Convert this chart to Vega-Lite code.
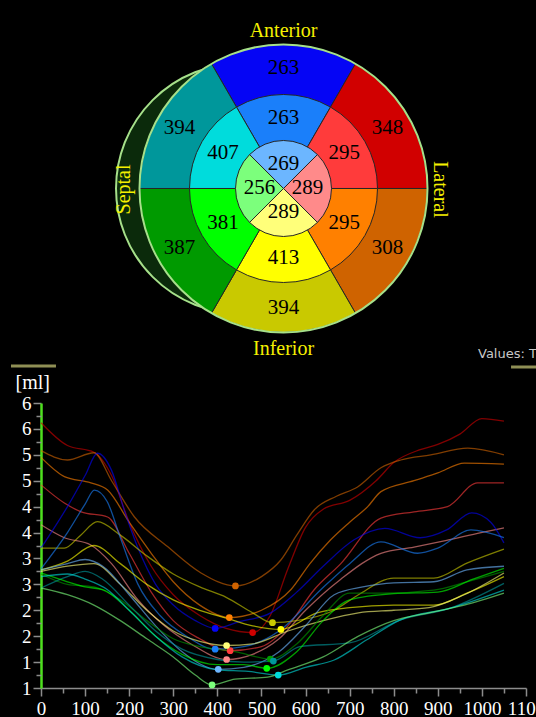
{
  "$schema": "https://vega.github.io/schema/vega-lite/v6.json",
  "background": "black",
  "padding": {"left": 9, "top": 0, "right": 0, "bottom": 0},
  "spacing": 0,
  "bounds": "flush",
  "config": {"view": {"stroke": null}, "font": "Liberation Serif"},
  "datasets": {
    "bullseye": [
      {"seg": "Basal anterior", "ring": 3, "a0": -30, "a1": 30, "T2": 263},
      {"seg": "Basal anterolateral", "ring": 3, "a0": 30, "a1": 90, "T2": 348},
      {"seg": "Basal inferolateral", "ring": 3, "a0": 90, "a1": 150, "T2": 308},
      {"seg": "Basal inferior", "ring": 3, "a0": 150, "a1": 210, "T2": 394},
      {"seg": "Basal inferoseptal", "ring": 3, "a0": 210, "a1": 270, "T2": 387},
      {"seg": "Basal anteroseptal", "ring": 3, "a0": 270, "a1": 330, "T2": 394},
      {"seg": "Mid anterior", "ring": 2, "a0": -30, "a1": 30, "T2": 263},
      {"seg": "Mid anterolateral", "ring": 2, "a0": 30, "a1": 90, "T2": 295},
      {"seg": "Mid inferolateral", "ring": 2, "a0": 90, "a1": 150, "T2": 295},
      {"seg": "Mid inferior", "ring": 2, "a0": 150, "a1": 210, "T2": 413},
      {"seg": "Mid inferoseptal", "ring": 2, "a0": 210, "a1": 270, "T2": 381},
      {"seg": "Mid anteroseptal", "ring": 2, "a0": 270, "a1": 330, "T2": 407},
      {"seg": "Apical anterior", "ring": 1, "a0": -45, "a1": 45, "T2": 269},
      {"seg": "Apical lateral", "ring": 1, "a0": 45, "a1": 135, "T2": 289},
      {"seg": "Apical inferior", "ring": 1, "a0": 135, "a1": 225, "T2": 289},
      {"seg": "Apical septal", "ring": 1, "a0": 225, "a1": 315, "T2": 256}
    ],
    "curves": [
      {"seg":"Basal anterolateral","t":0,"v":6.12},{"seg":"Basal anterolateral","t":60,"v":5.68},{"seg":"Basal anterolateral","t":120,"v":5.55},{"seg":"Basal anterolateral","t":160,"v":5.1},{"seg":"Basal anterolateral","t":200,"v":4.2},{"seg":"Basal anterolateral","t":250,"v":3.35},{"seg":"Basal anterolateral","t":300,"v":2.8},{"seg":"Basal anterolateral","t":360,"v":2.4},{"seg":"Basal anterolateral","t":420,"v":2.15},{"seg":"Basal anterolateral","t":480,"v":2.07},{"seg":"Basal anterolateral","t":520,"v":2.4},{"seg":"Basal anterolateral","t":560,"v":3.3},{"seg":"Basal anterolateral","t":600,"v":4.1},{"seg":"Basal anterolateral","t":640,"v":4.45},{"seg":"Basal anterolateral","t":700,"v":4.62},{"seg":"Basal anterolateral","t":760,"v":5.0},{"seg":"Basal anterolateral","t":800,"v":5.35},{"seg":"Basal anterolateral","t":860,"v":5.6},{"seg":"Basal anterolateral","t":900,"v":5.7},{"seg":"Basal anterolateral","t":950,"v":5.9},{"seg":"Basal anterolateral","t":1000,"v":6.2},{"seg":"Basal anterolateral","t":1050,"v":6.15},
      {"seg":"Basal inferolateral","t":0,"v":5.58},{"seg":"Basal inferolateral","t":60,"v":5.4},{"seg":"Basal inferolateral","t":120,"v":5.54},{"seg":"Basal inferolateral","t":160,"v":5.0},{"seg":"Basal inferolateral","t":212,"v":4.3},{"seg":"Basal inferolateral","t":287,"v":3.73},{"seg":"Basal inferolateral","t":363,"v":3.22},{"seg":"Basal inferolateral","t":441,"v":2.97},{"seg":"Basal inferolateral","t":500,"v":3.15},{"seg":"Basal inferolateral","t":544,"v":3.47},{"seg":"Basal inferolateral","t":580,"v":3.95},{"seg":"Basal inferolateral","t":620,"v":4.44},{"seg":"Basal inferolateral","t":670,"v":4.7},{"seg":"Basal inferolateral","t":718,"v":4.88},{"seg":"Basal inferolateral","t":771,"v":5.25},{"seg":"Basal inferolateral","t":816,"v":5.4},{"seg":"Basal inferolateral","t":884,"v":5.5},{"seg":"Basal inferolateral","t":968,"v":5.63},{"seg":"Basal inferolateral","t":1050,"v":5.5},
      {"seg":"Mid inferolateral","t":0,"v":5.45},{"seg":"Mid inferolateral","t":53,"v":5.08},{"seg":"Mid inferolateral","t":113,"v":4.96},{"seg":"Mid inferolateral","t":151,"v":4.82},{"seg":"Mid inferolateral","t":200,"v":4.2},{"seg":"Mid inferolateral","t":250,"v":3.6},{"seg":"Mid inferolateral","t":300,"v":3.05},{"seg":"Mid inferolateral","t":360,"v":2.6},{"seg":"Mid inferolateral","t":427,"v":2.36},{"seg":"Mid inferolateral","t":500,"v":2.5},{"seg":"Mid inferolateral","t":567,"v":2.9},{"seg":"Mid inferolateral","t":610,"v":3.4},{"seg":"Mid inferolateral","t":657,"v":3.86},{"seg":"Mid inferolateral","t":700,"v":4.2},{"seg":"Mid inferolateral","t":741,"v":4.5},{"seg":"Mid inferolateral","t":771,"v":4.79},{"seg":"Mid inferolateral","t":846,"v":5.0},{"seg":"Mid inferolateral","t":900,"v":5.15},{"seg":"Mid inferolateral","t":960,"v":5.34},{"seg":"Mid inferolateral","t":1050,"v":5.32},
      {"seg":"Mid anterolateral","t":0,"v":4.92},{"seg":"Mid anterolateral","t":53,"v":4.57},{"seg":"Mid anterolateral","t":91,"v":4.4},{"seg":"Mid anterolateral","t":151,"v":4.3},{"seg":"Mid anterolateral","t":200,"v":3.6},{"seg":"Mid anterolateral","t":250,"v":2.85},{"seg":"Mid anterolateral","t":300,"v":2.3},{"seg":"Mid anterolateral","t":360,"v":1.95},{"seg":"Mid anterolateral","t":429,"v":1.72},{"seg":"Mid anterolateral","t":500,"v":1.8},{"seg":"Mid anterolateral","t":560,"v":2.2},{"seg":"Mid anterolateral","t":620,"v":2.9},{"seg":"Mid anterolateral","t":680,"v":3.4},{"seg":"Mid anterolateral","t":771,"v":4.28},{"seg":"Mid anterolateral","t":846,"v":4.4},{"seg":"Mid anterolateral","t":922,"v":4.5},{"seg":"Mid anterolateral","t":990,"v":4.96},{"seg":"Mid anterolateral","t":1050,"v":4.96},
      {"seg":"Apical lateral","t":0,"v":4.15},{"seg":"Apical lateral","t":53,"v":3.9},{"seg":"Apical lateral","t":113,"v":3.76},{"seg":"Apical lateral","t":160,"v":3.4},{"seg":"Apical lateral","t":220,"v":2.7},{"seg":"Apical lateral","t":280,"v":2.2},{"seg":"Apical lateral","t":340,"v":1.85},{"seg":"Apical lateral","t":421,"v":1.55},{"seg":"Apical lateral","t":480,"v":1.65},{"seg":"Apical lateral","t":540,"v":1.95},{"seg":"Apical lateral","t":600,"v":2.5},{"seg":"Apical lateral","t":680,"v":3.1},{"seg":"Apical lateral","t":771,"v":3.6},{"seg":"Apical lateral","t":846,"v":3.72},{"seg":"Apical lateral","t":920,"v":3.85},{"seg":"Apical lateral","t":998,"v":4.0},{"seg":"Apical lateral","t":1050,"v":4.09},
      {"seg":"Basal anterior","t":0,"v":3.7},{"seg":"Basal anterior","t":60,"v":4.5},{"seg":"Basal anterior","t":100,"v":5.1},{"seg":"Basal anterior","t":128,"v":5.53},{"seg":"Basal anterior","t":160,"v":5.2},{"seg":"Basal anterior","t":190,"v":4.4},{"seg":"Basal anterior","t":220,"v":3.7},{"seg":"Basal anterior","t":260,"v":3.0},{"seg":"Basal anterior","t":300,"v":2.6},{"seg":"Basal anterior","t":350,"v":2.3},{"seg":"Basal anterior","t":395,"v":2.15},{"seg":"Basal anterior","t":450,"v":2.28},{"seg":"Basal anterior","t":521,"v":2.45},{"seg":"Basal anterior","t":580,"v":2.85},{"seg":"Basal anterior","t":640,"v":3.35},{"seg":"Basal anterior","t":710,"v":3.86},{"seg":"Basal anterior","t":780,"v":4.08},{"seg":"Basal anterior","t":860,"v":3.9},{"seg":"Basal anterior","t":920,"v":4.05},{"seg":"Basal anterior","t":977,"v":4.38},{"seg":"Basal anterior","t":1020,"v":4.2},{"seg":"Basal anterior","t":1050,"v":3.8},
      {"seg":"Basal inferior","t":0,"v":3.7},{"seg":"Basal inferior","t":53,"v":3.7},{"seg":"Basal inferior","t":90,"v":3.95},{"seg":"Basal inferior","t":128,"v":4.21},{"seg":"Basal inferior","t":180,"v":3.95},{"seg":"Basal inferior","t":240,"v":3.55},{"seg":"Basal inferior","t":300,"v":3.2},{"seg":"Basal inferior","t":360,"v":2.95},{"seg":"Basal inferior","t":420,"v":2.75},{"seg":"Basal inferior","t":480,"v":2.45},{"seg":"Basal inferior","t":525,"v":2.26},{"seg":"Basal inferior","t":580,"v":2.3},{"seg":"Basal inferior","t":665,"v":2.5},{"seg":"Basal inferior","t":720,"v":2.8},{"seg":"Basal inferior","t":800,"v":3.12},{"seg":"Basal inferior","t":891,"v":3.12},{"seg":"Basal inferior","t":966,"v":3.41},{"seg":"Basal inferior","t":1050,"v":3.68},
      {"seg":"Mid anterior","t":0,"v":3.3},{"seg":"Mid anterior","t":60,"v":4.0},{"seg":"Mid anterior","t":100,"v":4.55},{"seg":"Mid anterior","t":121,"v":4.82},{"seg":"Mid anterior","t":150,"v":4.6},{"seg":"Mid anterior","t":180,"v":3.9},{"seg":"Mid anterior","t":220,"v":3.0},{"seg":"Mid anterior","t":270,"v":2.4},{"seg":"Mid anterior","t":330,"v":2.0},{"seg":"Mid anterior","t":395,"v":1.75},{"seg":"Mid anterior","t":460,"v":1.8},{"seg":"Mid anterior","t":540,"v":2.1},{"seg":"Mid anterior","t":635,"v":2.9},{"seg":"Mid anterior","t":700,"v":3.4},{"seg":"Mid anterior","t":771,"v":3.82},{"seg":"Mid anterior","t":854,"v":3.6},{"seg":"Mid anterior","t":900,"v":3.7},{"seg":"Mid anterior","t":975,"v":4.05},{"seg":"Mid anterior","t":1050,"v":3.9},
      {"seg":"Mid inferior","t":0,"v":3.28},{"seg":"Mid inferior","t":60,"v":3.45},{"seg":"Mid inferior","t":120,"v":3.75},{"seg":"Mid inferior","t":180,"v":3.4},{"seg":"Mid inferior","t":240,"v":3.0},{"seg":"Mid inferior","t":300,"v":2.7},{"seg":"Mid inferior","t":360,"v":2.5},{"seg":"Mid inferior","t":420,"v":2.35},{"seg":"Mid inferior","t":480,"v":2.2},{"seg":"Mid inferior","t":544,"v":2.13},{"seg":"Mid inferior","t":626,"v":2.45},{"seg":"Mid inferior","t":700,"v":2.55},{"seg":"Mid inferior","t":800,"v":2.6},{"seg":"Mid inferior","t":891,"v":2.6},{"seg":"Mid inferior","t":966,"v":2.83},{"seg":"Mid inferior","t":1050,"v":3.15},
      {"seg":"Apical inferior","t":0,"v":3.25},{"seg":"Apical inferior","t":60,"v":3.35},{"seg":"Apical inferior","t":120,"v":3.4},{"seg":"Apical inferior","t":180,"v":3.0},{"seg":"Apical inferior","t":240,"v":2.5},{"seg":"Apical inferior","t":300,"v":2.1},{"seg":"Apical inferior","t":360,"v":1.9},{"seg":"Apical inferior","t":421,"v":1.82},{"seg":"Apical inferior","t":480,"v":1.85},{"seg":"Apical inferior","t":560,"v":2.1},{"seg":"Apical inferior","t":640,"v":2.3},{"seg":"Apical inferior","t":720,"v":2.45},{"seg":"Apical inferior","t":800,"v":2.5},{"seg":"Apical inferior","t":880,"v":2.55},{"seg":"Apical inferior","t":960,"v":2.8},{"seg":"Apical inferior","t":1050,"v":3.22},
      {"seg":"Apical anterior","t":0,"v":3.28},{"seg":"Apical anterior","t":60,"v":3.4},{"seg":"Apical anterior","t":100,"v":3.48},{"seg":"Apical anterior","t":140,"v":3.35},{"seg":"Apical anterior","t":200,"v":2.8},{"seg":"Apical anterior","t":260,"v":2.2},{"seg":"Apical anterior","t":320,"v":1.7},{"seg":"Apical anterior","t":402,"v":1.36},{"seg":"Apical anterior","t":460,"v":1.4},{"seg":"Apical anterior","t":540,"v":1.7},{"seg":"Apical anterior","t":600,"v":2.2},{"seg":"Apical anterior","t":665,"v":2.8},{"seg":"Apical anterior","t":730,"v":2.95},{"seg":"Apical anterior","t":800,"v":3.03},{"seg":"Apical anterior","t":891,"v":3.05},{"seg":"Apical anterior","t":966,"v":3.28},{"seg":"Apical anterior","t":1050,"v":3.35},
      {"seg":"Basal inferoseptal","t":0,"v":3.2},{"seg":"Basal inferoseptal","t":60,"v":3.0},{"seg":"Basal inferoseptal","t":120,"v":2.95},{"seg":"Basal inferoseptal","t":180,"v":2.7},{"seg":"Basal inferoseptal","t":240,"v":2.3},{"seg":"Basal inferoseptal","t":300,"v":1.95},{"seg":"Basal inferoseptal","t":360,"v":1.8},{"seg":"Basal inferoseptal","t":440,"v":1.7},{"seg":"Basal inferoseptal","t":520,"v":1.56},{"seg":"Basal inferoseptal","t":580,"v":1.85},{"seg":"Basal inferoseptal","t":640,"v":2.4},{"seg":"Basal inferoseptal","t":700,"v":2.83},{"seg":"Basal inferoseptal","t":778,"v":2.83},{"seg":"Basal inferoseptal","t":891,"v":2.89},{"seg":"Basal inferoseptal","t":966,"v":3.05},{"seg":"Basal inferoseptal","t":1050,"v":3.25},
      {"seg":"Basal anteroseptal","t":0,"v":2.93},{"seg":"Basal anteroseptal","t":60,"v":3.15},{"seg":"Basal anteroseptal","t":100,"v":3.25},{"seg":"Basal anteroseptal","t":140,"v":3.1},{"seg":"Basal anteroseptal","t":200,"v":2.6},{"seg":"Basal anteroseptal","t":260,"v":2.1},{"seg":"Basal anteroseptal","t":320,"v":1.75},{"seg":"Basal anteroseptal","t":400,"v":1.55},{"seg":"Basal anteroseptal","t":460,"v":1.5},{"seg":"Basal anteroseptal","t":527,"v":1.52},{"seg":"Basal anteroseptal","t":587,"v":1.8},{"seg":"Basal anteroseptal","t":700,"v":1.87},{"seg":"Basal anteroseptal","t":814,"v":2.31},{"seg":"Basal anteroseptal","t":928,"v":2.54},{"seg":"Basal anteroseptal","t":1050,"v":3.02},
      {"seg":"Mid inferoseptal","t":0,"v":3.22},{"seg":"Mid inferoseptal","t":60,"v":3.05},{"seg":"Mid inferoseptal","t":100,"v":2.95},{"seg":"Mid inferoseptal","t":140,"v":2.9},{"seg":"Mid inferoseptal","t":200,"v":2.5},{"seg":"Mid inferoseptal","t":260,"v":2.0},{"seg":"Mid inferoseptal","t":320,"v":1.65},{"seg":"Mid inferoseptal","t":400,"v":1.45},{"seg":"Mid inferoseptal","t":460,"v":1.45},{"seg":"Mid inferoseptal","t":512,"v":1.38},{"seg":"Mid inferoseptal","t":580,"v":1.7},{"seg":"Mid inferoseptal","t":640,"v":2.3},{"seg":"Mid inferoseptal","t":700,"v":2.7},{"seg":"Mid inferoseptal","t":800,"v":2.82},{"seg":"Mid inferoseptal","t":900,"v":2.85},{"seg":"Mid inferoseptal","t":980,"v":3.1},{"seg":"Mid inferoseptal","t":1050,"v":3.31},
      {"seg":"Mid anteroseptal","t":0,"v":3.15},{"seg":"Mid anteroseptal","t":60,"v":3.2},{"seg":"Mid anteroseptal","t":100,"v":3.1},{"seg":"Mid anteroseptal","t":150,"v":2.9},{"seg":"Mid anteroseptal","t":200,"v":2.5},{"seg":"Mid anteroseptal","t":260,"v":2.0},{"seg":"Mid anteroseptal","t":320,"v":1.6},{"seg":"Mid anteroseptal","t":400,"v":1.35},{"seg":"Mid anteroseptal","t":470,"v":1.32},{"seg":"Mid anteroseptal","t":538,"v":1.25},{"seg":"Mid anteroseptal","t":600,"v":1.4},{"seg":"Mid anteroseptal","t":665,"v":1.54},{"seg":"Mid anteroseptal","t":739,"v":1.93},{"seg":"Mid anteroseptal","t":814,"v":2.31},{"seg":"Mid anteroseptal","t":928,"v":2.54},{"seg":"Mid anteroseptal","t":1050,"v":2.89},
      {"seg":"Apical septal","t":0,"v":2.93},{"seg":"Apical septal","t":60,"v":2.8},{"seg":"Apical septal","t":120,"v":2.6},{"seg":"Apical septal","t":180,"v":2.3},{"seg":"Apical septal","t":240,"v":1.95},{"seg":"Apical septal","t":300,"v":1.6},{"seg":"Apical septal","t":350,"v":1.25},{"seg":"Apical septal","t":388,"v":1.06},{"seg":"Apical septal","t":440,"v":1.17},{"seg":"Apical septal","t":514,"v":1.21},{"seg":"Apical septal","t":560,"v":1.35},{"seg":"Apical septal","t":640,"v":1.6},{"seg":"Apical septal","t":720,"v":2.0},{"seg":"Apical septal","t":800,"v":2.3},{"seg":"Apical septal","t":880,"v":2.45},{"seg":"Apical septal","t":960,"v":2.6},{"seg":"Apical septal","t":1050,"v":2.83}
    ],
    "minima": [
      {"seg":"Basal anterior","t":395,"v":2.15},
      {"seg":"Basal anterolateral","t":480,"v":2.07},
      {"seg":"Basal inferolateral","t":441,"v":2.97},
      {"seg":"Basal inferior","t":525,"v":2.26},
      {"seg":"Basal inferoseptal","t":520,"v":1.56},
      {"seg":"Basal anteroseptal","t":527,"v":1.52},
      {"seg":"Mid anterior","t":395,"v":1.75},
      {"seg":"Mid anterolateral","t":429,"v":1.72},
      {"seg":"Mid inferolateral","t":427,"v":2.36},
      {"seg":"Mid inferior","t":544,"v":2.13},
      {"seg":"Mid inferoseptal","t":512,"v":1.38},
      {"seg":"Mid anteroseptal","t":538,"v":1.25},
      {"seg":"Apical anterior","t":402,"v":1.36},
      {"seg":"Apical lateral","t":421,"v":1.55},
      {"seg":"Apical inferior","t":421,"v":1.82},
      {"seg":"Apical septal","t":388,"v":1.06}
    ]
  },
  "resolve": {"scale": {"color": "shared"}},
  "vconcat": [
    {
      "width": 496,
      "height": 403,
      "layer": [
        {
          "data": {"values": [{"wall": "Septal"}]},
          "mark": {"type": "arc", "theta": 0, "theta2": 6.2832, "fill": "#0b2a0b", "stroke": "#a6e08a", "strokeWidth": 2, "opacity": 1},
          "encoding": {
            "x": {"datum": -0.885, "type": "quantitative", "scale": {"domain": [-5.052, 5.281], "nice": false, "zero": false}, "axis": null},
            "y": {"datum": 0, "type": "quantitative", "scale": {"domain": [-4.469, 3.927], "nice": false, "zero": false}, "axis": null},
            "radius": {"datum": 2.62, "type": "quantitative", "scale": {"type": "linear", "domain": [0, 1, 2, 3], "range": [0, 48, 94, 144]}}
          }
        },
        {
          "data": {"name": "bullseye"},
          "mark": {"type": "arc", "stroke": "#262626", "strokeWidth": 1, "opacity": 1},
          "encoding": {
            "x": {"datum": 0, "type": "quantitative"},
            "y": {"datum": 0, "type": "quantitative"},
            "theta": {"field": "a0", "type": "quantitative", "stack": null, "scale": {"domain": [0, 360], "range": [0, 6.283185307]}},
            "theta2": {"field": "a1"},
            "radius": {"field": "ring", "type": "quantitative"},
            "color": {"field": "seg", "type": "nominal", "legend": null,
              "scale": {"domain": ["Basal anterior","Basal anterolateral","Basal inferolateral","Basal inferior","Basal inferoseptal","Basal anteroseptal","Mid anterior","Mid anterolateral","Mid inferolateral","Mid inferior","Mid inferoseptal","Mid anteroseptal","Apical anterior","Apical lateral","Apical inferior","Apical septal"],
                        "range": ["#0505f5","#d10000","#cf6300","#c9c900","#009a00","#00979b","#1a7ffa","#ff3b3b","#ff8000","#ffff00","#00ff00","#00dcdc","#6cb6ff","#ff8a8a","#ffff7a","#7cff7c"]}}
          }
        },
        {
          "data": {"values": [{"ring": 3}]},
          "mark": {"type": "arc", "theta": 0, "theta2": 6.2832, "filled": false, "stroke": "#a6e08a", "strokeWidth": 2},
          "encoding": {
            "x": {"datum": 0, "type": "quantitative"},
            "y": {"datum": 0, "type": "quantitative"},
            "radius": {"field": "ring", "type": "quantitative"}
          }
        },
        {
          "data": {"name": "bullseye"},
          "transform": [{"calculate": "(datum.a0 + datum.a1) / 2", "as": "mid"}],
          "mark": {"type": "text", "radiusOffset": -24, "fontSize": 21, "font": "Liberation Serif", "color": "black"},
          "encoding": {
            "x": {"datum": 0, "type": "quantitative"},
            "y": {"datum": 0, "type": "quantitative"},
            "theta": {"field": "mid", "type": "quantitative", "stack": null},
            "radius": {"field": "ring", "type": "quantitative"},
            "text": {"field": "T2", "type": "quantitative"}
          }
        },
        {
          "data": {"values": [{"label": "Anterior"}]},
          "mark": {"type": "text", "fontSize": 20, "font": "Liberation Serif", "color": "#f5f000", "baseline": "alphabetic"},
          "encoding": {"x": {"datum": 0, "type": "quantitative"}, "y": {"datum": 3.152, "type": "quantitative"}, "text": {"field": "label"}}
        },
        {
          "data": {"values": [{"label": "Inferior"}]},
          "mark": {"type": "text", "fontSize": 20, "font": "Liberation Serif", "color": "#f5f000", "baseline": "alphabetic"},
          "encoding": {"x": {"datum": 0, "type": "quantitative"}, "y": {"datum": -3.479, "type": "quantitative"}, "text": {"field": "label"}}
        },
        {
          "data": {"values": [{"label": "Septal"}]},
          "mark": {"type": "text", "fontSize": 20, "font": "Liberation Serif", "color": "#f5f000", "angle": 270, "baseline": "middle"},
          "encoding": {"x": {"datum": -3.32, "type": "quantitative"}, "y": {"datum": -0.02, "type": "quantitative"}, "text": {"field": "label"}}
        },
        {
          "data": {"values": [{"label": "Lateral"}]},
          "mark": {"type": "text", "fontSize": 20, "font": "Liberation Serif", "color": "#f5f000", "angle": 90, "baseline": "middle"},
          "encoding": {"x": {"datum": 3.27, "type": "quantitative"}, "y": {"datum": -0.02, "type": "quantitative"}, "text": {"field": "label"}}
        },
        {
          "data": {"values": [{"label": "Values: T2"}]},
          "mark": {"type": "text", "fontSize": 13, "font": "DejaVu Sans", "color": "#c8c8c8", "align": "left", "baseline": "alphabetic"},
          "encoding": {"x": {"datum": 4.052, "type": "quantitative"}, "y": {"datum": -3.531, "type": "quantitative"}, "text": {"field": "label"}}
        },
        {
          "data": {"values": [{"part": "left"}]},
          "mark": {"type": "rule", "color": "#8f8f55", "strokeWidth": 3},
          "encoding": {"x": {"datum": -5.677, "type": "quantitative"}, "x2": {"datum": -4.74}, "y": {"datum": -3.698, "type": "quantitative"}}
        },
        {
          "data": {"values": [{"part": "right"}]},
          "mark": {"type": "rule", "color": "#8f8f55", "strokeWidth": 3},
          "encoding": {"x": {"datum": 4.74, "type": "quantitative"}, "x2": {"datum": 5.281}, "y": {"datum": -3.719, "type": "quantitative"}}
        }
      ]
    },
    {
      "width": 485,
      "height": 285,
      "resolve": {"axis": {"x": "independent", "y": "independent"}},
      "layer": [
        {
          "data": {"name": "curves"},
          "mark": {"type": "line", "interpolate": "monotone", "strokeWidth": 1.3, "opacity": 0.62},
          "encoding": {
            "x": {"field": "t", "type": "quantitative",
              "scale": {"domain": [0, 1100], "nice": false, "zero": false},
              "axis": {"values": [0,100,200,300,400,500,600,700,800,900,1000,1100],
                "format": "d",
                "labelFont": "Liberation Serif", "labelFontSize": 19, "labelColor": "white", "labelPadding": 3,
                "labelFlush": false, "labelOverlap": false, "labelBound": false,
                "tickColor": "#8c8c8c", "tickWidth": 1.5, "tickSize": 8,
                "domainColor": "#8c8c8c", "domainWidth": 1.5, "grid": false, "title": null}},
            "y": {"field": "v", "type": "quantitative",
              "scale": {"domain": [1, 6.5], "nice": false, "zero": false},
              "axis": {"values": [1,1.5,2,2.5,3,3.5,4,4.5,5,5.5,6,6.5],
                "labelExpr": "'' + floor(datum.value)",
                "labelFont": "Liberation Serif", "labelFontSize": 19, "labelColor": "white", "labelPadding": 2,
                "labelFlush": false, "labelOverlap": false, "labelBound": false,
                "tickColor": "#8c8c8c", "tickWidth": 1.5, "tickSize": 8,
                "domainColor": "#4ee01e", "domainWidth": 2.5, "grid": false,
                "title": "[ml]", "titleAngle": 0, "titleAlign": "left", "titleBaseline": "middle",
                "titleX": -26, "titleY": -21, "titleFont": "Liberation Serif", "titleFontSize": 20,
                "titleFontWeight": "normal", "titleColor": "white"}},
            "color": {"field": "seg", "type": "nominal", "legend": null,
              "scale": {"domain": ["Basal anterior","Basal anterolateral","Basal inferolateral","Basal inferior","Basal inferoseptal","Basal anteroseptal","Mid anterior","Mid anterolateral","Mid inferolateral","Mid inferior","Mid inferoseptal","Mid anteroseptal","Apical anterior","Apical lateral","Apical inferior","Apical septal"],
                        "range": ["#0505f5","#d10000","#cf6300","#c9c900","#009a00","#00979b","#1a7ffa","#ff3b3b","#ff8000","#ffff00","#00ff00","#00dcdc","#6cb6ff","#ff8a8a","#ffff7a","#7cff7c"]}}
          }
        },
        {
          "data": {"name": "minima"},
          "mark": {"type": "circle", "size": 45, "opacity": 1},
          "encoding": {
            "x": {"field": "t", "type": "quantitative",
              "axis": {"orient": "bottom", "values": [50,150,250,350,450,550,650,750,850,950,1050],
                "labels": false, "domain": false, "grid": false, "title": null,
                "tickColor": "#8c8c8c", "tickWidth": 1.5, "tickSize": 5}},
            "y": {"field": "v", "type": "quantitative",
              "axis": {"orient": "left", "values": [1.25,1.75,2.25,2.75,3.25,3.75,4.25,4.75,5.25,5.75,6.25],
                "labels": false, "domain": false, "grid": false, "title": null,
                "tickColor": "#8c8c8c", "tickWidth": 1.5, "tickSize": 5}},
            "color": {"field": "seg", "type": "nominal", "legend": null}
          }
        }
      ]
    }
  ]
}
